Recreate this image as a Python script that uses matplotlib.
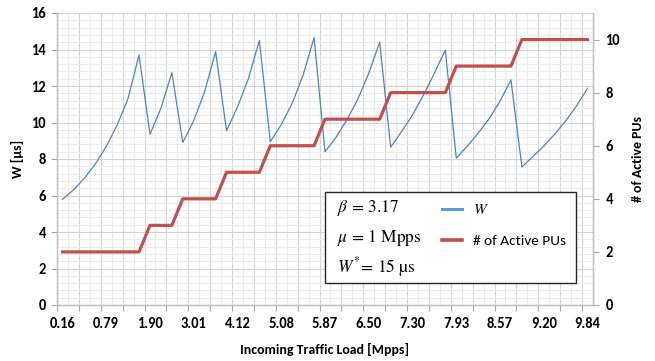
import numpy as np
import matplotlib.pyplot as plt
from matplotlib.patches import Rectangle
from matplotlib.lines import Line2D

plt.rcParams['font.family'] = ['Carlito', 'Roboto', 'DejaVu Sans']
plt.rcParams['mathtext.fontset'] = 'stix'

# category labels shown on the x axis (every 4th category)
tick_labels = ["0.16", "0.79", "1.90", "3.01", "4.12", "5.08", "5.87",
               "6.50", "7.30", "7.93", "8.57", "9.20", "9.84"]

# waiting time W [us], one value per category
W = [5.79, 6.30, 6.94, 7.73, 8.68, 9.86, 11.32, 13.70,
     9.35, 10.78, 12.73,
     8.91, 10.10, 11.70, 13.88,
     9.55, 10.85, 12.40, 14.50,
     8.95, 9.88, 11.05, 12.60, 14.65,
     8.40, 9.18, 10.14, 11.28, 12.70, 14.40,
     8.65, 9.50, 10.41, 11.50, 12.70, 13.97,
     8.05, 8.70, 9.42, 10.20, 11.17, 12.33,
     7.56, 8.13, 8.71, 9.37, 10.08, 10.92, 11.87]

# number of active PUs, one value per category
PUs = [2, 2, 2, 2, 2, 2, 2, 2,
       3, 3, 3,
       4, 4, 4, 4,
       5, 5, 5, 5,
       6, 6, 6, 6, 6,
       7, 7, 7, 7, 7, 7,
       8, 8, 8, 8, 8, 8,
       9, 9, 9, 9, 9, 9,
       10, 10, 10, 10, 10, 10, 10]

blue = '#4a84c4'
red = '#c0504d'
n = len(W)
x = np.arange(n)

fig = plt.figure(figsize=(6.55, 3.61), dpi=100)
ax = fig.add_axes([57/655, 1-305/361, (593-57)/655, (305-13)/361])
ax2 = ax.twinx()

# grid (Excel style: light minor lines, darker major lines)
for k in range(n + 1):
    xb = k - 0.5
    ax.axvline(xb, color='#d4d4d4' if k % 2 == 0 else '#ececec', lw=0.8, zorder=0)
for v in np.arange(0, 16.01, 0.4):
    major = abs(v/2 - round(v/2)) < 1e-6
    ax.axhline(v, color='#d4d4d4' if major else '#ececec', lw=0.8, zorder=0)

ax.plot(x, W, color=blue, lw=0.9, zorder=3)
ax2.plot(x, PUs, color=red, lw=2.3, solid_joinstyle='round', zorder=3)

ax.set_xlim(-0.5, n - 0.5)
ax.set_ylim(0, 16)
ax2.set_ylim(0, 11)
ax.set_yticks(np.arange(0, 17, 2))
ax2.set_yticks(np.arange(0, 11, 2))

ax.set_xticks(np.arange(-0.5, n, 2))
ax.set_xticklabels([])
ax.set_xticks(np.arange(0, n, 4), tick_labels, minor=True)
ax.tick_params(axis='x', which='major', length=4, color='#a6a6a6', width=0.8)
ax.tick_params(axis='x', which='minor', length=0, pad=9, labelsize=10.5)
ax.tick_params(axis='y', length=4, color='#a6a6a6', width=0.8, labelsize=10.5, pad=4)
ax2.tick_params(axis='y', length=4, color='#a6a6a6', width=0.8, labelsize=10.5, pad=5)
for lab in ax.get_xticklabels(minor=True) + ax.get_yticklabels() + ax2.get_yticklabels():
    lab.set_fontweight('bold')

for a in (ax, ax2):
    a.spines['top'].set_visible(False)
    for s in ('left', 'right', 'bottom'):
        a.spines[s].set_color('#bfbfbf')
        a.spines[s].set_linewidth(0.9)

ax.set_xlabel('Incoming Traffic Load [Mpps]', fontsize=10, fontweight='bold', labelpad=8)
ax.set_ylabel('W [µs]', fontsize=10, fontweight='bold', labelpad=5)
ax2.set_ylabel('# of Active PUs', fontsize=10, fontweight='bold', labelpad=9)

# legend box with parameters
ax2.add_patch(Rectangle((325/655, 1-283/361), (576-325)/655, (283-192)/361,
                        transform=fig.transFigure, facecolor='white',
                        edgecolor='#262626', lw=1.0, zorder=5, clip_on=False))
for txt, yy in [(r'$\beta\,=\,3.17$', 208), (r'$\mu\,=\,1\ \mathrm{Mpps}$', 238),
                (r'$W^{*}\!=\,\mathrm{15\ µs}$', 267)]:
    ax2.text(337/655, 1-yy/361, txt, transform=fig.transFigure, fontsize=12.5,
             va='center', ha='left', zorder=6)

handles = [Line2D([], [], color='#5b9bd5', lw=2.2), Line2D([], [], color=red, lw=2.6)]
leg = ax2.legend(handles, ['$W$', '# of Active PUs'], loc='upper left',
                 bbox_to_anchor=(442/655, 1-202/361), bbox_transform=fig.transFigure,
                 frameon=False, fontsize=11, handlelength=1.3, handletextpad=0.7,
                 labelspacing=1.2, borderpad=0, borderaxespad=0)
leg.set_zorder(7)

fig.savefig('out.png', dpi=100)
